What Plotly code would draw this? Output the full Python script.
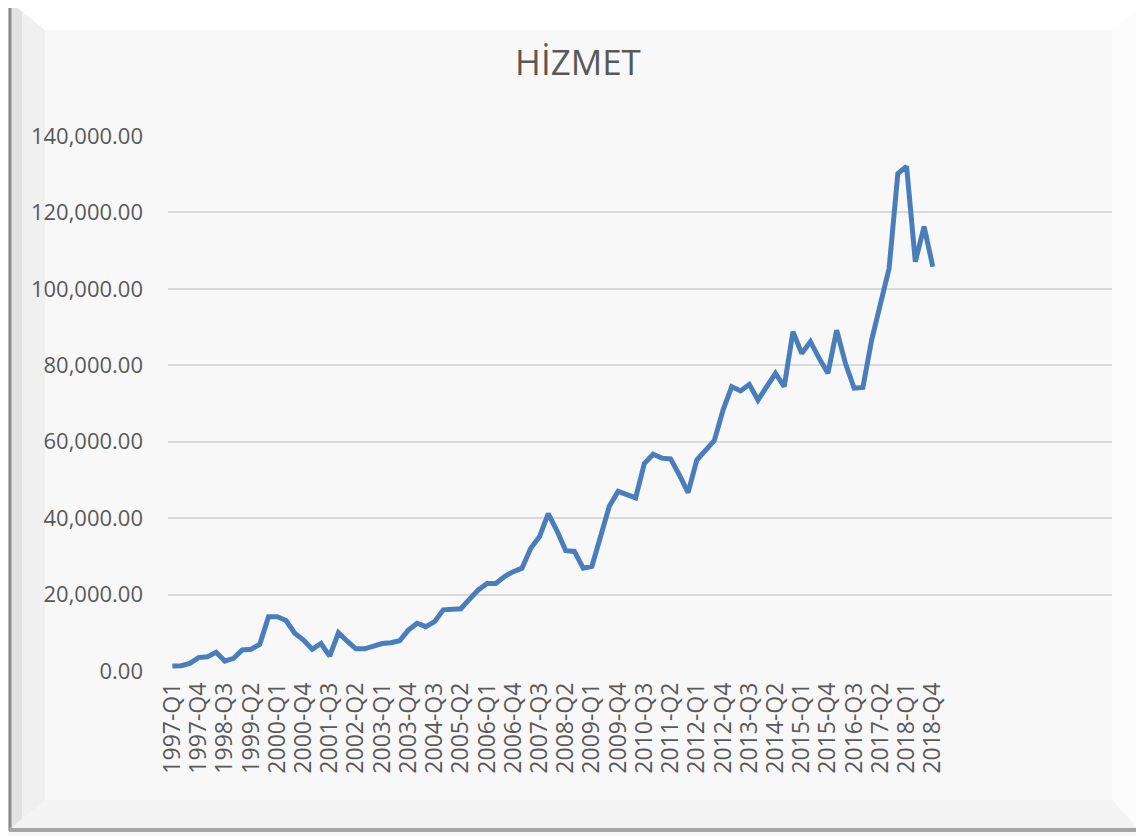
import plotly.graph_objects as go

# ---- data ----
years = list(range(1997, 2019))
quarters = ["Q1", "Q2", "Q3", "Q4"]
categories = [f"{y}-{q}" for y in years for q in quarters]

hizmet = [
    1300, 1400, 2000, 3500, 3700, 4900, 2600, 3300, 5500, 5700,
    7000, 14200, 14200, 13200, 9900, 8100, 5700, 7200, 3900, 10000,
    7800, 5800, 5800, 6500, 7200, 7400, 7900, 10700, 12500, 11600,
    12900, 16000, 16000, 16300, 18800, 21200, 22900, 22900, 24700, 26000,
    26900, 32100, 35100, 41200, 36700, 31500, 31300, 26900, 27400, 35100,
    43200, 47000, 46100, 45300, 54300, 56700, 55700, 55500, 51300, 46700,
    55200, 57700, 60300, 68300, 74400, 73300, 75000, 70900, 74400, 77900,
    74400, 88800, 83100, 86200, 81800, 77900, 89200, 80500, 74000, 74200,
    86600, 95800, 105400, 130200, 132000, 107100, 116300, 105800,
]

tick_labels = categories[::3]
y_ticks = [0, 20000, 40000, 60000, 80000, 100000, 120000, 140000]
title_text = "HİZMET"

# ---- layout geometry (reference pixel coords; page body adds 8px offset) ----
OFF = 8
W, H = 1144 - OFF, 836 - OFF
L, R, T, B = 168, 1112, 136, 671


def px(x):
    return (x - L) / (R - L)


def py(y):
    return (B - y) / (B - T)


def poly(points):
    return "M " + " L ".join(f"{px(x):.5f},{py(y):.5f}" for x, y in points) + " Z"


fig = go.Figure()
fig.add_trace(go.Scatter(
    x=categories, y=hizmet, mode="lines",
    line=dict(color="rgb(74,126,187)", width=5),
    hoverinfo="x+y", showlegend=False,
))

shapes = [
    # top white bevel
    dict(type="path", xref="paper", yref="paper", layer="below",
         path=poly([(8, 0), (1150, 0), (1112, 30), (45, 30)]),
         fillcolor="#ffffff", line=dict(width=0)),
    # right light bevel
    dict(type="path", xref="paper", yref="paper", layer="below",
         path=poly([(1150, 0), (1140, 831), (1112, 800), (1112, 30)]),
         fillcolor="#fcfcfc", line=dict(width=0)),
    # left shaded bevel
    dict(type="path", xref="paper", yref="paper", layer="below",
         path=poly([(8, 0), (45, 30), (45, 800), (8, 831)]),
         fillcolor="#f0f0f0", line=dict(width=0)),
    dict(type="path", xref="paper", yref="paper", layer="below",
         path=poly([(8, 0), (22, 12), (22, 818), (8, 831)]),
         fillcolor="#e2e2e2", line=dict(width=0)),
    # bottom bevel
    dict(type="path", xref="paper", yref="paper", layer="below",
         path=poly([(8, 831), (45, 800), (1112, 800), (1140, 831)]),
         fillcolor="#f4f4f4", line=dict(width=0)),
    # outer edges
    dict(type="line", xref="paper", yref="paper",
         x0=px(10), x1=px(10), y0=py(0), y1=py(831),
         line=dict(color="#8c8c8c", width=3)),
    dict(type="line", xref="paper", yref="paper",
         x0=px(9), x1=px(1140), y0=py(830), y1=py(830),
         line=dict(color="#a6a6a6", width=4)),
    dict(type="line", xref="paper", yref="paper",
         x0=px(1140), x1=px(1140), y0=py(0), y1=py(831),
         line=dict(color="#d6d6d6", width=2)),
]

fig.update_layout(
    width=W, height=H,
    margin=dict(l=L - OFF, r=1144 - R, t=T - OFF, b=836 - B, pad=0),
    paper_bgcolor="#f8f8f8",
    plot_bgcolor="#f8f8f8",
    font=dict(family="Open Sans, Lato, sans-serif", color="#595959"),
    title=dict(text=title_text, x=px(578), xref="paper", xanchor="center",
               y=1 - (63 - OFF) / H, yanchor="middle",
               font=dict(family="Open Sans, sans-serif", size=35, color="#595959")),
    shapes=shapes,
    showlegend=False,
)

fig.update_xaxes(
    type="category",
    categoryorder="array", categoryarray=categories,
    range=[-0.5, 107.5],
    tickmode="array", tickvals=tick_labels, ticktext=tick_labels,
    tickangle=-90,
    tickfont=dict(size=23, color="#595959"),
    showgrid=False, zeroline=False, showline=False,
    ticks="", ticklabelstandoff=6,
)

fig.update_yaxes(
    range=[0, 140000],
    tickmode="array", tickvals=y_ticks,
    tickformat=",.2f",
    tickfont=dict(size=22, color="#595959"),
    showgrid=True, gridcolor="#d9d9d9", gridwidth=1.5,
    zeroline=False, showline=False,
    ticks="", ticklabelstandoff=24,
)

fig.write_html("out.html")
